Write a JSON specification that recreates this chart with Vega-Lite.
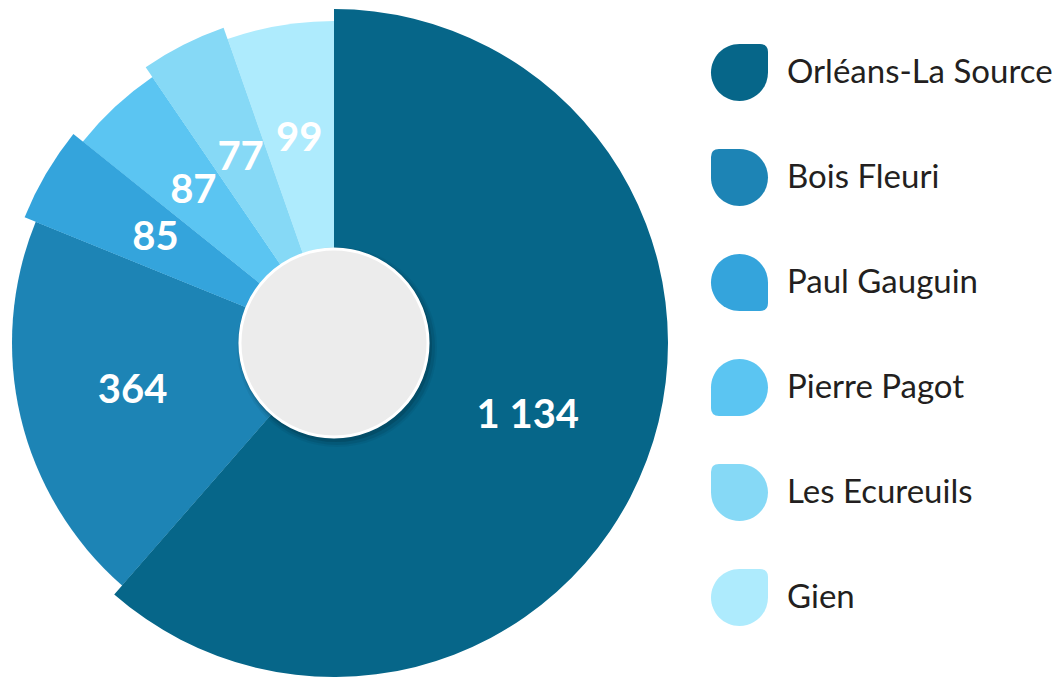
{
  "$schema": "https://vega.github.io/schema/vega-lite/v6.json",
  "width": 664,
  "height": 686,
  "autosize": {"type": "pad"},
  "padding": 0,
  "background": "white",
  "config": {
    "view": {"stroke": null},
    "locale": {"number": {"decimal": ",", "thousands": " ", "grouping": [3], "currency": ["", " €"]}},
    "legend": {
      "orient": "right",
      "offset": 1,
      "padding": 44,
      "symbolSize": 3249,
      "symbolStrokeWidth": 0,
      "symbolOpacity": 1,
      "labelFont": "Lato",
      "labelFontSize": 33,
      "labelColor": "#231f20",
      "labelOffset": 19,
      "labelLimit": 400,
      "rowPadding": 48,
      "title": null
    }
  },
  "data": {
    "values": [
      {"name": "Orléans-La Source", "value": 1134},
      {"name": "Bois Fleuri", "value": 364},
      {"name": "Paul Gauguin", "value": 85},
      {"name": "Pierre Pagot", "value": 87},
      {"name": "Les Ecureuils", "value": 77},
      {"name": "Gien", "value": 99}
    ]
  },
  "layer": [
    {
      "mark": {"type": "point", "filled": true, "size": 1, "opacity": 1},
      "encoding": {
        "color": {"field": "name", "type": "nominal", "title": null,
          "scale": {"domain": ["Orléans-La Source", "Bois Fleuri", "Paul Gauguin", "Pierre Pagot", "Les Ecureuils", "Gien"],
                    "range": ["#066689", "#1d84b5", "#34a4dc", "#5bc5f2", "#86d9f6", "#aeebfd"]}},
        "shape": {"field": "name", "type": "nominal", "title": null,
          "scale": {"domain": ["Orléans-La Source", "Bois Fleuri", "Paul Gauguin", "Pierre Pagot", "Les Ecureuils", "Gien"],
                    "range": [
                      "M0,-1 L0.72,-1 Q1,-1 1,-0.72 L1,0 A1,1 0 0,1 0,1 A1,1 0 0,1 -1,0 A1,1 0 0,1 0,-1 Z",
                      "M-1,0 L-1,-0.72 Q-1,-1 -0.72,-1 L0,-1 A1,1 0 0,1 1,0 A1,1 0 0,1 0,1 A1,1 0 0,1 -1,0 Z",
                      "M0,-1 A1,1 0 0,1 1,0 L1,0.72 Q1,1 0.72,1 L0,1 A1,1 0 0,1 -1,0 A1,1 0 0,1 0,-1 Z",
                      "M0,-1 A1,1 0 0,1 1,0 A1,1 0 0,1 0,1 L-0.72,1 Q-1,1 -1,0.72 L-1,0 A1,1 0 0,1 0,-1 Z",
                      "M-1,0 L-1,-0.72 Q-1,-1 -0.72,-1 L0,-1 A1,1 0 0,1 1,0 A1,1 0 0,1 0,1 A1,1 0 0,1 -1,0 Z",
                      "M0,-1 L0.72,-1 Q1,-1 1,-0.72 L1,0 A1,1 0 0,1 0,1 A1,1 0 0,1 -1,0 A1,1 0 0,1 0,-1 Z"
                    ]}}
      }
    },
    {
      "transform": [{"window": [{"op": "row_number", "as": "rank"}]}],
      "mark": {"type": "arc", "outerRadius": 322},
      "encoding": {
        "theta": {"field": "value", "type": "quantitative", "stack": true},
        "order": {"field": "rank", "type": "quantitative"},
        "color": {"field": "name", "type": "nominal", "title": null}
      }
    },
    {
      "transform": [{"window": [{"op": "row_number", "as": "rank"}]}],
      "mark": {"type": "arc", "outerRadius": 334},
      "encoding": {
        "theta": {"field": "value", "type": "quantitative", "stack": true},
        "order": {"field": "rank", "type": "quantitative"},
        "color": {"field": "name", "type": "nominal", "title": null},
        "opacity": {"condition": {"test": "datum.name === 'Orléans-La Source' || datum.name === 'Paul Gauguin' || datum.name === 'Les Ecureuils'", "value": 1}, "value": 0}
      }
    },
    {
      "data": {"values": [{"k": 1}]},
      "mark": {"type": "arc", "outerRadius": 100, "fill": "#000000", "opacity": 0.05, "xOffset": 3, "yOffset": 4},
      "encoding": {}
    },
    {
      "data": {"values": [{"k": 1}]},
      "mark": {"type": "arc", "outerRadius": 98, "fill": "#000000", "opacity": 0.08, "xOffset": 3, "yOffset": 4},
      "encoding": {}
    },
    {
      "data": {"values": [{"k": 1}]},
      "mark": {"type": "arc", "outerRadius": 96, "fill": "#000000", "opacity": 0.12, "xOffset": 2, "yOffset": 3},
      "encoding": {}
    },
    {
      "data": {"values": [{"k": 1}]},
      "mark": {"type": "arc", "outerRadius": 94, "fill": "#ececec", "stroke": "#ffffff", "strokeWidth": 3},
      "encoding": {}
    },
    {
      "transform": [{"window": [{"op": "row_number", "as": "rank"}]}],
      "mark": {"type": "text", "radius": 207, "font": "Lato", "fontWeight": "bold", "fontSize": 40, "fill": "#ffffff", "align": "center", "baseline": "middle"},
      "encoding": {
        "theta": {"field": "value", "type": "quantitative", "stack": true},
        "order": {"field": "rank", "type": "quantitative"},
        "text": {"field": "value", "type": "quantitative", "format": ",d"}
      }
    }
  ]
}
